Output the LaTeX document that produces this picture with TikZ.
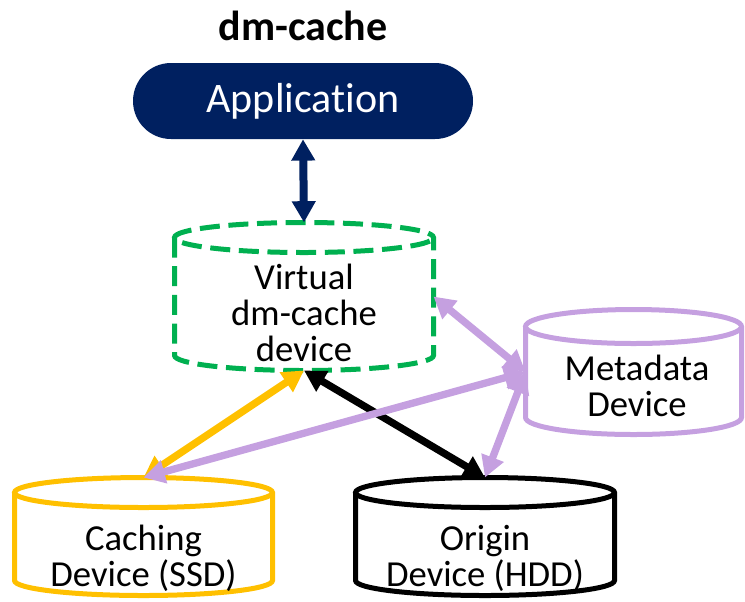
\documentclass[tikz,border=0pt]{standalone}
\usepackage{fontspec}
\setmainfont[Ligatures=NoCommon]{Carlito}
\usetikzlibrary{arrows.meta,calc}
\definecolor{dmNavy}{RGB}{0,32,96}
\definecolor{dmGreen}{RGB}{0,176,80}
\definecolor{dmGold}{RGB}{255,192,0}
\definecolor{dmLilac}{RGB}{197,160,224}

% outline of a can round a named node: node, y radius of the ends, options
\newcommand{\drawcan}[3]{%
  \draw[#3] let \p1=(#1.north west), \p2=(#1.south east), \n1={(\x2-\x1)/2} in
    (\x1,\y1-#2) -- (\x1,\y2+#2)
    arc[start angle=180,end angle=360,x radius={\n1*1pt},y radius=#2]
    -- (\x2,\y1-#2)
    arc[start angle=0,end angle=180,x radius={\n1*1pt},y radius=#2]
    arc[start angle=180,end angle=360,x radius={\n1*1pt},y radius=#2];
}

\begin{document}
\begin{tikzpicture}[x=0.75pt,y=-0.75pt,
    can/.style={rectangle,inner sep=0pt,outer sep=0pt},
    txt/.style={align=center,font=\fontsize{27.5}{27}\selectfont},
    link/.style={line width=5.5pt,>={Triangle[width=17pt,length=16pt]},<->}]
    \useasboundingbox (0,0) rectangle (745,601);

    % Title and application
    \node[font=\bfseries\fontsize{31.5}{36}\selectfont,anchor=base] (title) at (303,40) {dm-cache};
    \node[fill=dmNavy,text=white,rounded corners=28.5pt,minimum width=255pt,minimum height=57pt,inner sep=0pt,font=\fontsize{31.5}{36}\selectfont] (app) at (303,101) {Application};

    % Devices
    \node[can,minimum width=194.25pt,minimum height=111pt] (virt) at (304,296.5) {};
    \node[can,minimum width=162pt,minimum height=93.75pt] (meta) at (633.5,372) {};
    \node[can,minimum width=193.5pt,minimum height=88.5pt] (cach) at (143.5,536.5) {};
    \node[can,minimum width=194.25pt,minimum height=88.5pt] (orig) at (485,536.5) {};

    \drawcan{virt}{11.25pt}{dmGreen,line width=3.75pt,dash pattern=on 15pt off 6.5pt}
    \drawcan{meta}{12.75pt}{dmLilac,line width=3.75pt}
    \drawcan{cach}{11.25pt}{dmGold,line width=3.75pt}
    \drawcan{orig}{11.25pt}{black,line width=3.75pt}

    \node[txt] (virttxt) at (304,312.5) {Virtual\\dm-cache\\device};
    \node[txt] (metatxt) at (637,386) {Metadata\\Device};
    \node[txt] (cachtxt) at (143.5,558) {Caching\\Device (SSD)};
    \node[txt] (origtxt) at (485,558) {Origin\\Device (HDD)};

    % Data paths
    \draw[link,dmNavy,line width=6pt] (app.south) -- (virt.north);
    \draw[link,dmGold] (virt.south) -- (cach.north);
    \draw[link,black] (virt.south) -- (orig.north);
    \draw[link,dmLilac] (meta.west) -- (virt.east);
    \draw[link,dmLilac] (meta.west) -- (cach.north);
    \draw[link,dmLilac] (meta.west) -- (orig.north);
\end{tikzpicture}
\end{document}
